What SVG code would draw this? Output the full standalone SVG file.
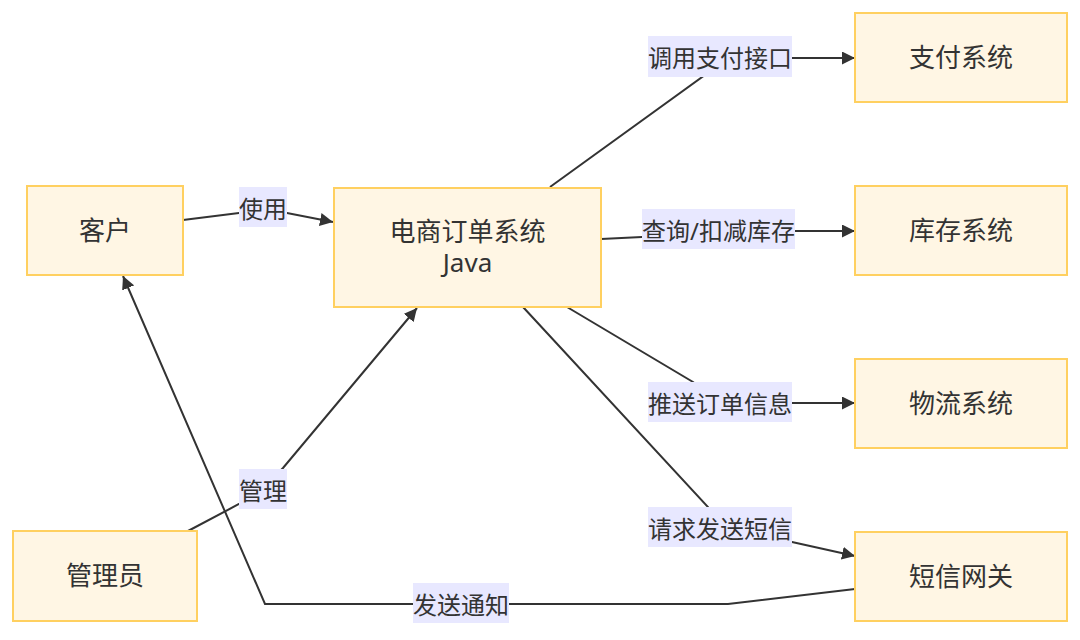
<svg xmlns="http://www.w3.org/2000/svg" width="1080" height="640" viewBox="0 0 1080 640">
<style>
.node rect{fill:#FFF6E4;stroke:#FFD060;stroke-width:2}
.node text{font-family:"Noto Sans","Noto Sans CJK SC",sans-serif;font-size:26px;fill:#333;text-anchor:middle;dominant-baseline:central}
.edges path{fill:none;stroke:#333;stroke-width:2}
.lbl rect{fill:#E8E8FF}
.lbl text{font-family:"Noto Sans","Noto Sans CJK SC",sans-serif;font-size:24px;fill:#333;text-anchor:middle;dominant-baseline:central}
</style>
<defs>
<marker id="arr" viewBox="0 0 10 10" refX="10" refY="5" markerWidth="13" markerHeight="13" markerUnits="userSpaceOnUse" orient="auto">
<path d="M0,0 L10,5 L0,10 z" fill="#333"/>
</marker>
</defs>
<rect width="1080" height="640" fill="#fff"/>
<g id="connectors" class="edges">
<path d="M183,220 L239,213 L287,213 L333,222" marker-end="url(#arr)"/>
<path d="M550,187 L705,75 L792,58 L855,58" marker-end="url(#arr)"/>
<path d="M601,239 L642,237 L795,231 L855,231" marker-end="url(#arr)"/>
<path d="M567,307 L693,382 L720,403 L855,403" marker-end="url(#arr)"/>
<path d="M523,307 L708,507 L720,527 L792,542 L855,556" marker-end="url(#arr)"/>
<path d="M188,531 L239,504 L263,489 L283,468 L417,308" marker-end="url(#arr)"/>
<path d="M855,589 L728,604 L265,604 L123,276" marker-end="url(#arr)"/>
<g class="lbl">
<rect x="239" y="187" width="48" height="40"/><text x="263" y="208">使用</text>
<rect x="648" y="36" width="144" height="41"/><text x="720" y="57">调用支付接口</text>
<rect x="642" y="209" width="153" height="40"/><text x="718.5" y="230">查询/扣减库存</text>
<rect x="648" y="382" width="144" height="40"/><text x="720" y="403">推送订单信息</text>
<rect x="648" y="507" width="144" height="40"/><text x="720" y="528">请求发送短信</text>
<rect x="239" y="469" width="48" height="40"/><text x="263" y="490">管理</text>
<rect x="413" y="583" width="96" height="40"/><text x="461" y="604">发送通知</text>
</g>
</g>
<g id="kehu" class="node"><rect x="27" y="186" width="156" height="89"/><text x="105" y="230">客户</text></g>
<g id="order" class="node"><rect x="334" y="188" width="267" height="119"/><text x="467.5" y="231"><tspan x="467.5" y="231">电商订单系统</tspan><tspan x="467.5" y="262">Java</tspan></text></g>
<g id="pay" class="node"><rect x="855" y="13" width="212" height="89"/><text x="961" y="57">支付系统</text></g>
<g id="stock" class="node"><rect x="855" y="186" width="212" height="89"/><text x="961" y="230">库存系统</text></g>
<g id="logistics" class="node"><rect x="855" y="359" width="212" height="89"/><text x="961" y="403">物流系统</text></g>
<g id="sms" class="node"><rect x="855" y="532" width="212" height="89"/><text x="961" y="576">短信网关</text></g>
<g id="admin" class="node"><rect x="13" y="531" width="184" height="90"/><text x="105" y="575">管理员</text></g>
</svg>
